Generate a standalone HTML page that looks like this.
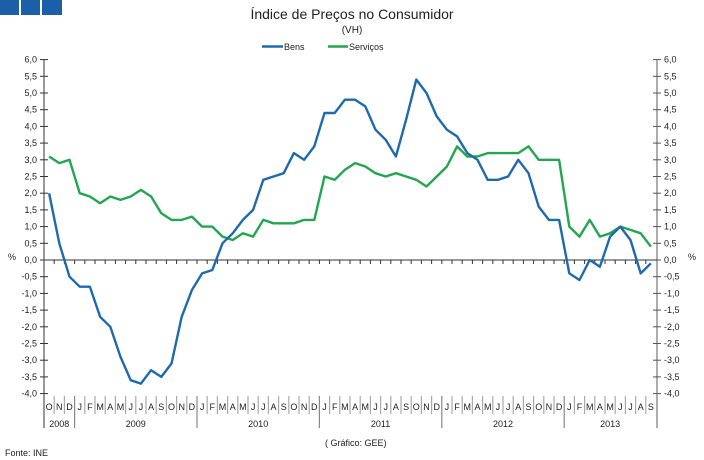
<!DOCTYPE html>
<html><head><meta charset="utf-8"><style>
html,body{margin:0;padding:0;background:#fff;width:704px;height:460px;overflow:hidden}
svg{display:block;font-family:"Liberation Sans",sans-serif}
</style></head><body>
<svg id="s" width="704" height="460" xmlns="http://www.w3.org/2000/svg">
<rect x="0" y="0" width="19" height="15" fill="#1b5fa6"/>
<rect x="21" y="0" width="19" height="15" fill="#1b5fa6"/>
<rect x="42" y="0" width="20" height="15" fill="#1b5fa6"/>
<text x="352" y="19" font-size="14" text-anchor="middle" fill="#222">Índice de Preços no Consumidor</text>
<text x="352" y="33" font-size="10" text-anchor="middle" fill="#222">(VH)</text>
<line x1="262" y1="46.5" x2="283" y2="46.5" stroke="#1f6aad" stroke-width="2.5"/>
<text x="284" y="50" font-size="9" fill="#222">Bens</text>
<line x1="328" y1="46.5" x2="348" y2="46.5" stroke="#22a650" stroke-width="2.5"/>
<text x="349" y="50" font-size="9" fill="#222">Serviços</text>
<text x="8" y="260" font-size="9" fill="#222">%</text>
<text x="688" y="260" font-size="9" fill="#222">%</text>
<text x="5" y="456" font-size="9" fill="#222">Fonte: INE</text>
<text x="325" y="446" font-size="9" fill="#222">( Gráfico: GEE)</text>
<g id="g"></g>
</svg>
<script>
var g=document.getElementById('g'),h='';
function Y(v){return 260-v*33.4}
var L=44,R=657,W=10.2;
// axes
h+='<line x1="'+L+'" y1="60" x2="'+L+'" y2="428" stroke="#333" stroke-width="1"/>';
h+='<line x1="'+R+'" y1="60" x2="'+R+'" y2="428" stroke="#777" stroke-width="1.2"/>';
for(var i=0;i<=20;i++){var v=6-i*0.5,y=Y(v);var s=v.toFixed(1).replace('.',',');
h+='<line x1="'+(L-4)+'" y1="'+y+'" x2="'+(L+4)+'" y2="'+y+'" stroke="#333"/>';
h+='<line x1="'+(R-4)+'" y1="'+y+'" x2="'+(R+4)+'" y2="'+y+'" stroke="#555"/>';
h+='<text x="'+(L-7)+'" y="'+(y+3)+'" font-size="9" text-anchor="end" fill="#222">'+s+'</text>';
h+='<text x="'+(R+7)+'" y="'+(y+3)+'" font-size="9" fill="#222">'+s+'</text>';}
h+='<line x1="'+L+'" y1="260" x2="'+R+'" y2="260" stroke="#333"/>';
var m='ONDJFMAMJJASONDJFMAMJJASONDJFMAMJJASONDJFMAMJJASONDJFMAMJJAS';
for(var i=0;i<60;i++){var x=L+W*(i+0.5);
if(i>0){var xb=L+W*i;h+='<line x1="'+xb+'" y1="260" x2="'+xb+'" y2="264" stroke="#333"/>';
var yr=(m[i]=='J'&&m[i-1]=='D');
h+='<line x1="'+xb+'" y1="396" x2="'+xb+'" y2="'+(yr?428:414)+'" stroke="'+(yr?'#888':'#aaa')+'" stroke-width="1.2"/>';}
h+='<text x="'+x+'" y="410" font-size="9" text-anchor="middle" fill="#222">'+m[i]+'</text>';}
var yrs=[[0,3,'2008'],[3,15,'2009'],[15,27,'2010'],[27,39,'2011'],[39,51,'2012'],[51,60,'2013']];
yrs.forEach(function(a){h+='<text x="'+(L+W*(a[0]+a[1])/2)+'" y="427" font-size="9" text-anchor="middle" fill="#222">'+a[2]+'</text>';});
var B=[2.0,0.5,-0.5,-0.8,-0.8,-1.7,-2.0,-2.9,-3.6,-3.7,-3.3,-3.5,-3.1,-1.7,-0.9,-0.4,-0.3,0.5,0.8,1.2,1.5,2.4,2.5,2.6,3.2,3.0,3.4,4.4,4.4,4.8,4.8,4.6,3.9,3.6,3.1,4.2,5.4,5.0,4.3,3.9,3.7,3.2,3.0,2.4,2.4,2.5,3.0,2.6,1.6,1.2,1.2,-0.4,-0.6,0.0,-0.2,0.7,1.0,0.6,-0.4,-0.1];
var S=[3.1,2.9,3.0,2.0,1.9,1.7,1.9,1.8,1.9,2.1,1.9,1.4,1.2,1.2,1.3,1.0,1.0,0.7,0.6,0.8,0.7,1.2,1.1,1.1,1.1,1.2,1.2,2.5,2.4,2.7,2.9,2.8,2.6,2.5,2.6,2.5,2.4,2.2,2.5,2.8,3.4,3.1,3.1,3.2,3.2,3.2,3.2,3.4,3.0,3.0,3.0,1.0,0.7,1.2,0.7,0.8,1.0,0.9,0.8,0.4];
function P(d,c){return '<polyline fill="none" stroke="'+c+'" stroke-width="2.4" stroke-linejoin="round" points="'+d.map(function(v,i){return (L+W*(i+0.5)).toFixed(1)+','+Y(v).toFixed(1)}).join(' ')+'"/>';}
h+=P(S,'#22a650')+P(B,'#1f6aad');
g.innerHTML=h;
</script>
</body></html>
